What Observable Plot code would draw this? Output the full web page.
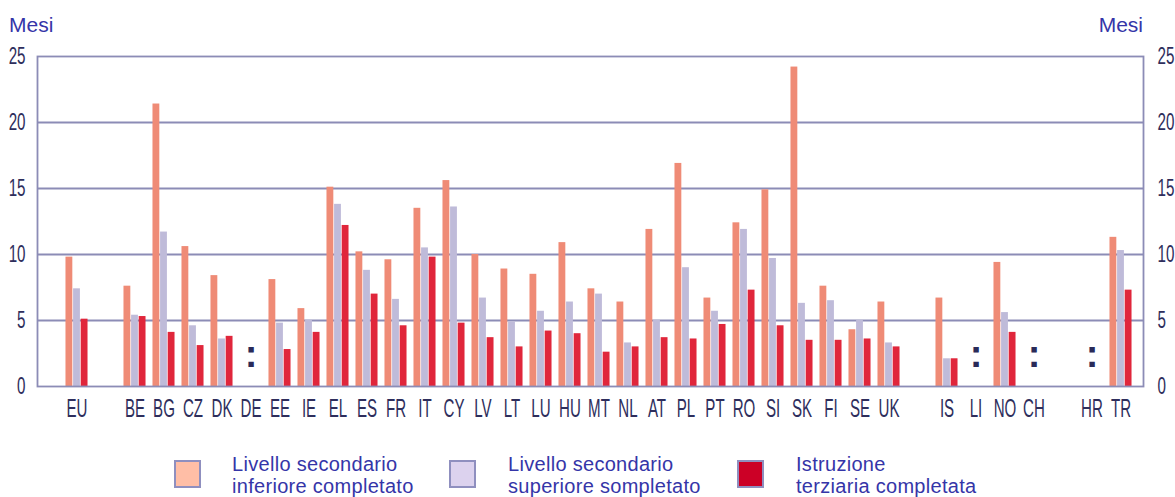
<!DOCTYPE html>
<html>
<head>
<meta charset="utf-8">
<script src="https://cdn.jsdelivr.net/npm/d3@7"></script>
<script src="https://cdn.jsdelivr.net/npm/@observablehq/plot@0.6"></script>
<style>
  html, body { margin: 0; padding: 0; background: #ffffff; }
  #wrap { position: relative; width: 1175px; height: 497px; overflow: hidden; font-family: "Liberation Sans", Arial, sans-serif; }
  #chart { position: absolute; left: 0; top: 0; }
  .mesi { position: absolute; font-size: 21px; line-height: 21px; color: #3535a8; }
  .sw { position: absolute; width: 23px; height: 24px; border: 2px solid #8f8fbf; box-sizing: content-box; }
  .lt { position: absolute; font-size: 20px; line-height: 21px; height: 21px; letter-spacing: 0.3px; color: #3535a8; white-space: nowrap; }
</style>
</head>
<body>
<div id="wrap">
  <div id="chart"></div>
  <div class="mesi" style="left:9px; top:14px;">Mesi</div>
  <div class="mesi" style="right:32px; top:14px;">Mesi</div>
  <div id="legend"></div>
</div>
<script>
// ---- data ----
const codes = ["EU", " ", "BE", "BG", "CZ", "DK", "DE", "EE", "IE", "EL", "ES", "FR", "IT", "CY", "LV", "LT", "LU", "HU", "MT", "NL", "AT", "PL", "PT", "RO", "SI", "SK", "FI", "SE", "UK", "  ", "IS", "LI", "NO", "CH", "   ", "HR", "TR"];
const lower    = [9.8, null, 7.6, 21.4, 10.6, 8.4, null, 8.1, 5.9, 15.1, 10.2, 9.6, 13.5, 15.6, 10.0, 8.9, 8.5, 10.9, 7.4, 6.4, 11.9, 16.9, 6.7, 12.4, 14.9, 24.2, 7.6, 4.3, 6.4, null, 6.7, null, 9.4, null, null, null, 11.3];
const upper    = [7.4, null, 5.4, 11.7, 4.6, 3.6, null, 4.8, 5.0, 13.8, 8.8, 6.6, 10.5, 13.6, 6.7, 4.9, 5.7, 6.4, 7.0, 3.3, 5.0, 9.0, 5.7, 11.9, 9.7, 6.3, 6.5, 5.0, 3.3, null, 2.1, null, 5.6, null, null, null, 10.3];
const tertiary = [5.1, null, 5.3, 4.1, 3.1, 3.8, null, 2.8, 4.1, 12.2, 7.0, 4.6, 9.8, 4.8, 3.7, 3.0, 4.2, 4.0, 2.6, 3.0, 3.7, 3.6, 4.7, 7.3, 4.6, 3.5, 3.5, 3.6, 3.0, null, 2.1, null, 4.1, null, null, null, 7.3];
const missing = ["DE", "LI", "CH", "HR"];
const yTicks = [0, 5, 10, 15, 20, 25];
const seriesNames = [
  ["Livello secondario", "inferiore completato"],
  ["Livello secondario", "superiore sompletato"],
  ["Istruzione", "terziaria completata"]
];
const barColors = ["#ef8b76", "#bfbbd9", "#e0263b"];
const swatchColors = ["#ffbea6", "#dcd2ee", "#cc0026"];

// ---- table ----
const rows = [];
[lower, upper, tertiary].forEach((arr, s) => arr.forEach((v, i) => {
  if (v != null) rows.push({ code: codes[i], value: v, s });
}));

const W = 1175, H = 430, mL = 37, mR = 32, mT = 56, mB = 44;
const padOuter = 0.08, alignX = 0.75;
const bw = d3.scaleBand().domain(codes).range([mL, W - mR]).paddingInner(0).paddingOuter(padOuter).align(alignX).bandwidth();
const barW = 7.6;
const offsets = [-11.4, -3.8, 3.8];
const gridColor = "#8c8cb6";
const textColor = "#2e2e5c";
const narrow = "'Liberation Sans Narrow', 'Liberation Sans', Arial, sans-serif";

function bars(s) {
  const left = bw / 2 + offsets[s];
  return Plot.barY(rows.filter(r => r.s === s), {
    x: "code", y: "value", fill: barColors[s],
    insetLeft: left, insetRight: bw - left - barW
  });
}

const chart = Plot.plot({
  width: W, height: H,
  marginLeft: mL, marginRight: mR, marginTop: mT, marginBottom: mB,
  style: { background: "transparent", color: textColor, fontFamily: narrow },
  x: { type: "band", domain: codes, paddingInner: 0, paddingOuter: padOuter, align: alignX, label: null },
  y: { domain: [0, 25], label: null },
  marks: [
    Plot.ruleY(yTicks.filter(t => t > 0 && t < 25), { stroke: gridColor, strokeWidth: 1.8 }),
    bars(0), bars(1), bars(2),
    Plot.frame({ stroke: gridColor, strokeWidth: 1.8 }),
    Plot.text(missing, { x: d => d, text: () => ":", frameAnchor: "bottom", dy: -20, fontSize: 38, fontWeight: "bold", fill: "#2a2a58", fontFamily: "'Liberation Sans', Arial, sans-serif" }),
    Plot.axisX({ tickSize: 0, tickPadding: 12, label: null, tickFormat: d => d.trim() }),
    Plot.axisY(yTicks, { anchor: "left", tickSize: 0, tickPadding: 12, label: null }),
    Plot.axisY(yTicks, { anchor: "right", tickSize: 0, tickPadding: 14, label: null })
  ]
});
document.getElementById("chart").appendChild(chart);

// enlarge + condense axis tick labels (narrow typeface look)
function condense(sel, size, k) {
  chart.querySelectorAll(sel).forEach(g => {
    g.setAttribute("font-size", size);
    g.style.fontSize = size + "px";
    g.querySelectorAll("text").forEach(t => {
      t.style.fontSize = size + "px";
      const tr = t.getAttribute("transform");
      if (tr) t.setAttribute("transform", tr + ` scale(${k},1)`);
      else {
        const x = +t.getAttribute("x") || 0, y = +t.getAttribute("y") || 0;
        t.setAttribute("transform", `translate(${x},${y}) scale(${k},1) translate(${-x},${-y})`);
      }
    });
  });
}
condense('g[aria-label="x-axis tick label"]', 26, 0.58);
condense('g[aria-label="y-axis tick label"]', 23, 0.66);

// ---- legend ----
const legend = document.getElementById("legend");
const swX = [174, 449, 737], txX = [232, 508, 796];
seriesNames.forEach((lines, i) => {
  const sw = document.createElement("div");
  sw.className = "sw";
  sw.style.left = swX[i] + "px"; sw.style.top = "460px";
  sw.style.background = swatchColors[i];
  legend.appendChild(sw);
  lines.forEach((line, j) => {
    const t = document.createElement("div");
    t.className = "lt";
    t.style.left = txX[i] + "px";
    t.style.top = (454 + j * 22) + "px";
    t.textContent = line;
    legend.appendChild(t);
  });
});
</script>
</body>
</html>
